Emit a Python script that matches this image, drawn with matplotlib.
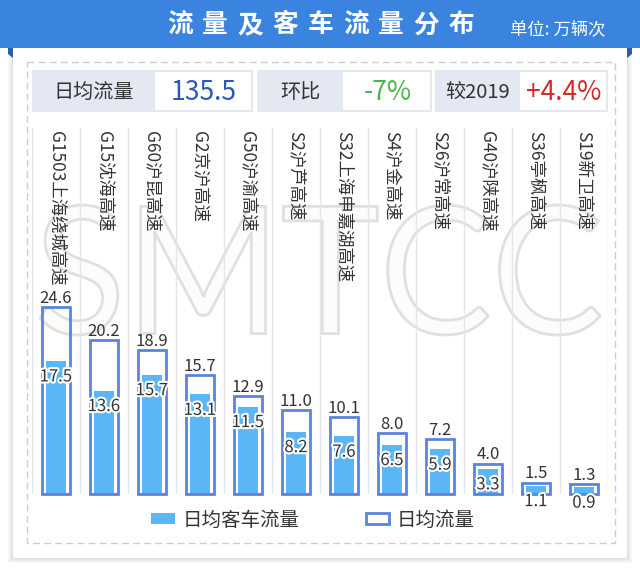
import matplotlib
matplotlib.use('Agg')
import matplotlib.pyplot as plt
from matplotlib.patches import Rectangle, Polygon, PathPatch
from matplotlib.textpath import TextPath
from matplotlib.font_manager import FontProperties
from matplotlib.transforms import Affine2D
import matplotlib.patheffects as pe

plt.rcParams['font.family'] = ['Noto Sans CJK SC', 'DejaVu Sans']

# data (万辆次)
roads = ['G1503上海绕城高速', 'G15沈海高速', 'G60沪昆高速', 'G2京沪高速', 'G50沪渝高速',
         'S2沪芦高速', 'S32上海申嘉湖高速', 'S4沪金高速', 'S26沪常高速', 'G40沪陕高速',
         'S36亭枫高速', 'S19新卫高速']
total_flow = [24.6, 20.2, 18.9, 15.7, 12.9, 11.0, 10.1, 8.0, 7.2, 4.0, 1.5, 1.3]
car_flow = [17.5, 13.6, 15.7, 13.1, 11.5, 8.2, 7.6, 6.5, 5.9, 3.3, 1.1, 0.9]

title = '流量及客车流量分布'
unit_text = '单位: 万辆次'
stat_labels = ['日均流量', '环比', '较2019']
stat_values = ['135.5', '-7%', '+4.4%']
stat_colors = ['#2d57b8', '#45b845', '#d42a2a']

W, H = 640, 573
fig = plt.figure(figsize=(W / 100, H / 100), dpi=100)
fig.patch.set_facecolor('white')

# background layer in pixel coordinates
bg = fig.add_axes([0, 0, 1, 1], zorder=0)
bg.set_xlim(0, W)
bg.set_ylim(H, 0)
bg.axis('off')

# card with a soft shadow
for d in range(1, 6):
    bg.add_patch(Rectangle((13 - d, 48), 614 + 2 * d, 510 + d, color='black', alpha=0.025, lw=0))
bg.add_patch(Rectangle((13, 48), 614, 510, color='white', lw=0))

# header band and folded tabs
bg.add_patch(Rectangle((0, 0), W, 48, color='#3a84e0', lw=0))
bg.add_patch(Polygon([(8, 48), (13, 48), (13, 58), (8, 54)], color='#2b5da8', lw=0))
bg.add_patch(Polygon([(627, 48), (632, 48), (632, 54), (627, 58)], color='#2b5da8', lw=0))
for i, ch in enumerate(title):
    bg.text(180 + 35.2 * i, 25, ch, color='white', fontsize=18.5, fontweight='bold',
            ha='center', va='center')
bg.text(510, 29, unit_text, color='white', fontsize=12.5, ha='left', va='center')

# dashed frame
bg.add_patch(Rectangle((27, 62), 588, 481, fill=False, ec='#c9cdd5', lw=1, ls=(0, (5, 3))))

# stats boxes
boxes = [(32, 155, 253), (257, 343, 432), (435, 520, 608)]
for (x0, xm, x1), lab, val, col in zip(boxes, stat_labels, stat_values, stat_colors):
    bg.add_patch(Rectangle((x0, 70), x1 - x0, 42, color='#e3e8f2', lw=0))
    bg.add_patch(Rectangle((xm, 72), x1 - xm - 2, 38, color='white', lw=0))
    bg.text((x0 + xm) / 2, 92, lab, color='#333333', fontsize=14.5, ha='center', va='center',
            family=['Liberation Sans Narrow', 'Noto Sans CJK SC'])
    bg.text((xm + x1) / 2, 92, val, color=col, fontsize=19, ha='center', va='center',
            family=['Liberation Sans Narrow', 'Noto Sans CJK SC'])

# SMTCC watermark, hollow letters
tp = TextPath((0, 0), 'SMTCC', size=100, prop=FontProperties(family='Lato', weight='normal'))
ext = tp.get_extents()
sx = (600 - 40) / ext.width
sy = (335 - 205) / ext.height
tr = Affine2D().translate(-ext.x0, -ext.y1).scale(sx, -sy).translate(40, 205)
bg.add_patch(PathPatch(tr.transform_path(tp), facecolor='#fcfcfc', edgecolor='#e0e0e0', lw=2))

# bar chart
ax = fig.add_axes([32 / W, 1 - 494 / H, 576 / W, 366 / H], zorder=1)
ax.patch.set_alpha(0)
ax.set_xlim(-0.5, len(roads) - 0.5)
ax.set_ylim(0, 366 / 7.6)
ax.axis('off')

x = list(range(len(roads)))
for k in range(len(roads) + 1):
    ax.axvline(k - 0.5, color='#e6e6e6', lw=1, zorder=0)

cars = ax.bar(x, car_flow, width=0.42, color='#5bb6f6', zorder=2, label='日均客车流量')
tots = ax.bar(x, total_flow, width=0.58, facecolor='none', edgecolor='#5b84dc', lw=2,
              zorder=3, label='日均流量')
for b in tots:
    b.set_clip_on(False)

for i, name in enumerate(roads):
    ax.text(i, 1 - 3 / 366, name, transform=ax.get_xaxis_transform(), rotation=-90,
            ha='center', va='top', fontsize=12.5, color='#333333')
    ax.annotate(f'{total_flow[i]:.1f}', (i, total_flow[i]), xytext=(0, 3),
                textcoords='offset points', ha='center', va='baseline',
                fontsize=12, color='#333333')
    ax.annotate(f'{car_flow[i]:.1f}', (i, car_flow[i]), xytext=(0, -11.5),
                textcoords='offset points', ha='center', va='center',
                fontsize=12, color='#333333', zorder=5,
                path_effects=[pe.withStroke(linewidth=3, foreground='white')])

ax.legend(handles=[cars, tots], loc='center', bbox_to_anchor=(313 / W, 1 - 520 / H),
          bbox_transform=fig.transFigure, ncol=2, frameon=False, fontsize=14,
          handlelength=1.2, handleheight=0.46, handletextpad=0.4, columnspacing=3.4,
          labelcolor='#333333')

fig.savefig('out.png', dpi=100, facecolor='white')
